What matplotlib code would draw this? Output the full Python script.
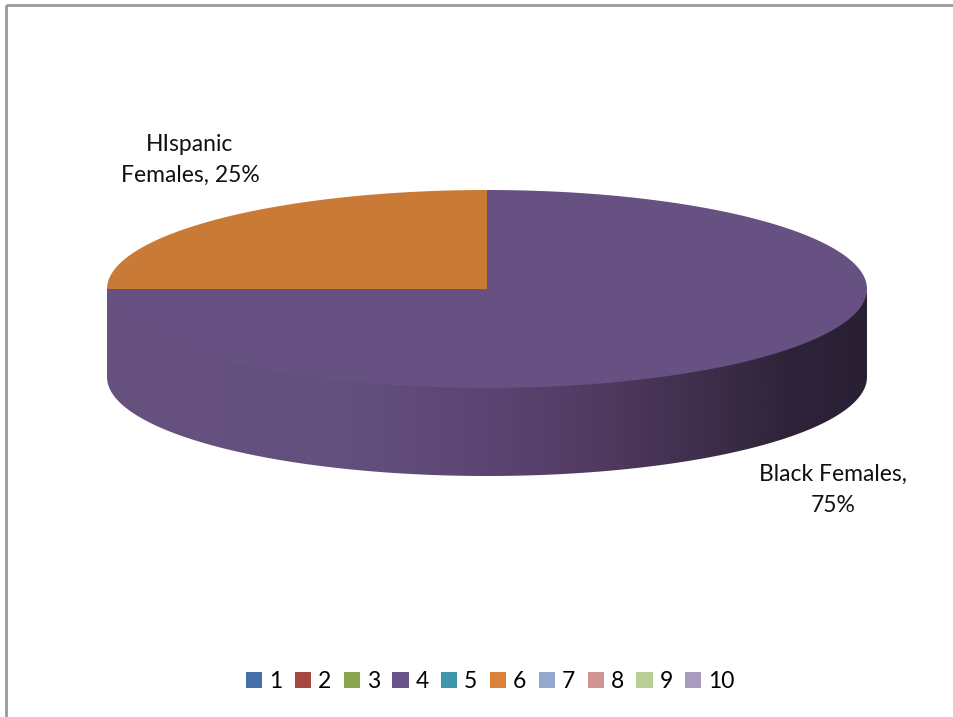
import numpy as np
import matplotlib.pyplot as plt
from matplotlib.patches import Polygon, Rectangle, Patch
from matplotlib.colors import LinearSegmentedColormap

# data: ten categories, only 4 and 6 carry a value
categories = ["1", "2", "3", "4", "5", "6", "7", "8", "9", "10"]
values = [0, 0, 0, 75, 0, 25, 0, 0, 0, 0]
colors = ["#4472a8", "#a94744", "#89a54e", "#6a5388", "#3f97ad",
          "#db8239", "#93a9d0", "#d09493", "#b9cd96", "#a99bbd"]
top_colors = {"4": "#675082", "6": "#c97a36"}

plt.rcParams['font.family'] = ['Lato', 'DejaVu Sans']

fig = plt.figure(figsize=(9.54, 7.17), dpi=100)
ax = fig.add_axes([0, 0, 1, 1])
ax.set_xlim(0, 954)
ax.set_ylim(717, 0)
ax.axis("off")

# outer frame (only left and top visible in the crop)
ax.add_patch(Rectangle((6, 5), 1000, 800, fill=False, ec="#9a9a9a", lw=2))

cx, cy, rx, ry, depth = 487, 289, 380, 99, 88


def ell(t, dy=0):
    return cx + rx * np.cos(t), cy - ry * np.sin(t) + dy


# side band (front half) with left-to-right shading
t = np.linspace(np.pi, 2 * np.pi, 200)
x1, y1 = ell(t, -2)
x2, y2 = ell(t[::-1], depth)
side = Polygon(np.column_stack([np.r_[x1, x2], np.r_[y1, y2]]),
               closed=True, fc="none", ec="none")
ax.add_patch(side)
cmap = LinearSegmentedColormap.from_list(
    "side", [(0.0, "#66517f"), (0.3, "#64507e"), (0.5, "#5b4573"),
             (0.65, "#513a60"), (0.8, "#3d2d49"), (0.9, "#2e2339"),
             (1.0, "#2a2034")])
grad = np.linspace(0, 1, 400).reshape(1, -1)
im = ax.imshow(grad, cmap=cmap, extent=(cx - rx, cx + rx, cy + ry + depth, cy - ry),
               aspect="auto", zorder=2)
im.set_clip_path(side)

# top surface: start at 12 o'clock, go clockwise
total = sum(values)
start = np.pi / 2
for cat, v in zip(categories, values):
    if v == 0:
        continue
    end = start - 2 * np.pi * v / total
    tt = np.linspace(start, end, 300)
    xs, ys = ell(tt)
    poly = np.column_stack([np.r_[cx, xs, cx], np.r_[cy, ys, cy]])
    ax.add_patch(Polygon(poly, closed=True, fc=top_colors[cat], ec="none", zorder=3))
    start = end

# data labels
ax.text(190, 160, "HIspanic\nFemales, %d%%" % values[5], ha="center", va="center",
        fontsize=16.5, linespacing=1.6, color="#111111")
ax.text(833, 490, "Black Females,\n%d%%" % values[3], ha="center", va="center",
        fontsize=16.5, linespacing=1.55, color="#111111")

handles = [Patch(fc=c, ec="none") for c in colors]
fig.legend(handles, categories, loc="center", bbox_to_anchor=(0.514, 0.05), ncol=10,
           frameon=False, fontsize=16.5, handlelength=0.7, handleheight=0.7,
           handletextpad=0.3, columnspacing=0.55)

fig.savefig("out.png", dpi=100)
